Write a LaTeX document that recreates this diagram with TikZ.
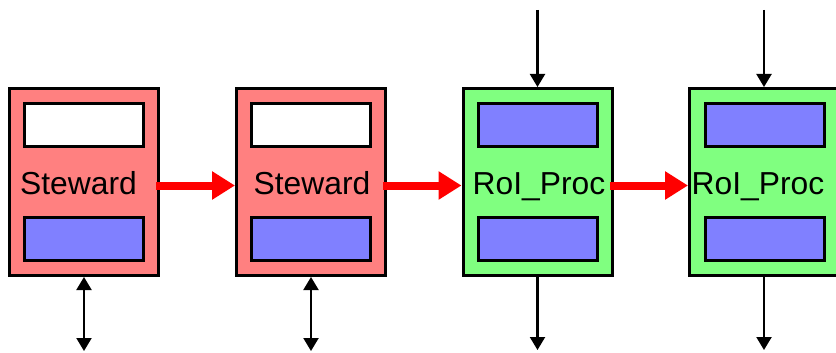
\documentclass[tikz,border=0pt]{standalone}
\usepackage{fontspec}
\setmainfont{Liberation Sans}
\usetikzlibrary{arrows.meta}
\definecolor{stewfill}{HTML}{FF8080}
\definecolor{procfill}{HTML}{80FF80}
\definecolor{slotfill}{HTML}{8080FF}
\definecolor{flowred}{HTML}{FF0000}
\begin{document}
\begin{tikzpicture}[x=1pt,y=-1pt,
  unit/.style={draw=black,line width=3pt,minimum width=149pt,minimum height=187pt,inner sep=0pt},
  slot/.style={draw=black,line width=3pt,minimum width=119pt,minimum height=43pt,inner sep=0pt},
  label/.style={font=\fontsize{31.8}{38}\selectfont,anchor=base,inner sep=0pt},
  flow/.style={draw=flowred,line width=8pt,-{Triangle[length=23pt,width=27pt]}},
  feed/.style={draw=black,line width=2.2pt,-{Triangle[length=13pt,width=15pt]}},
  both/.style={draw=black,line width=2.2pt,{Triangle[length=13pt,width=15pt]}-{Triangle[length=13pt,width=15pt]}}]
\clip (0,0) rectangle (836,353);

% four processing units
\node[unit,fill=stewfill] (s1) at (84,182) {};
\node[unit,fill=stewfill] (s2) at (311,182) {};
\node[unit,fill=procfill] (r1) at (537.5,182) {};
\node[unit,fill=procfill] (r2) at (764,182) {};

% inner slots
\node[slot,fill=white]    (s1a) at (84,125) {};
\node[slot,fill=slotfill] (s1b) at (84,239) {};
\node[slot,fill=white]    (s2a) at (311,125) {};
\node[slot,fill=slotfill] (s2b) at (311,239) {};
\node[slot,fill=slotfill] (r1a) at (538,125) {};
\node[slot,fill=slotfill] (r1b) at (538,239) {};
\node[slot,fill=slotfill] (r2a) at (764.5,125) {};
\node[slot,fill=slotfill] (r2b) at (764.5,239) {};

% unit names
\node[label] (t1) at (78.5,194) {Steward};
\node[label] (t2) at (312,194) {Steward};
\node[label] (t3) at (539,194) {RoI\_Proc};
\node[label] (t4) at (758,194) {RoI\_Proc};

% flow between units
\draw[flow] ([xshift=-4pt,yshift=-3.5pt]s1.east) -- ([yshift=-3.5pt]s2.west);
\draw[flow] ([xshift=-4pt,yshift=-3.5pt]s2.east) -- ([yshift=-3.5pt]r1.west);
\draw[flow] ([xshift=-4pt,yshift=-3.5pt]r1.east) -- ([yshift=-3.5pt]r2.west);

% external inputs and outputs
\coordinate (in3) at (537.5,10);
\coordinate (in4) at (764,10);
\coordinate (out1) at (84,351);
\coordinate (out2) at (311,351);
\coordinate (out3) at (537.5,350);
\coordinate (out4) at (764,350);
\draw[both] (s1.south) -- (out1);
\draw[both] (s2.south) -- (out2);
\draw[feed] (in3) -- (r1.north);
\draw[feed] (in4) -- (r2.north);
\draw[feed] (r1.south) -- (out3);
\draw[feed] (r2.south) -- (out4);
\end{tikzpicture}
\end{document}
